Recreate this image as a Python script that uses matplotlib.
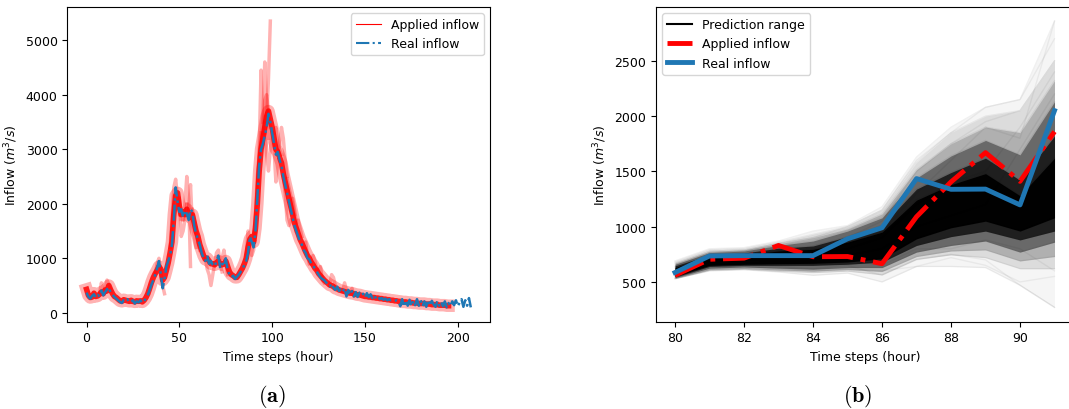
import numpy as np
import matplotlib.pyplot as plt
from matplotlib.lines import Line2D

plt.rcParams['mathtext.fontset'] = 'dejavusans'

# ---- panel (a): whole event, hourly ----
real_inflow = [
    370, 290, 260, 310, 340, 280, 330, 300, 410, 320,
    380, 430, 470, 360, 330, 290, 260, 230, 200, 180,
    230, 210, 250, 190, 200, 230, 170, 210, 190, 230,
    180, 220, 260, 330, 420, 520, 600, 700, 820, 950,
    700, 450, 620, 850, 950, 1050, 1250, 1700, 2300, 2050,
    1850, 1900, 1750, 1880, 1820, 1700, 1900, 1850, 1600, 1450,
    1350, 1250, 1100, 1000, 950, 1050, 900, 950, 880, 850,
    950, 1050, 820, 900, 850, 1000, 780, 700, 650, 680,
    620, 660, 700, 750, 800, 880, 950, 1100, 1400, 1300,
    1200, 1500, 2100, 2700, 3000, 3100, 3250, 3400, 3650, 3500,
    3300, 3100, 2900, 2950, 2800, 2700, 2500, 2350, 2200, 2050,
    1900, 1750, 1600, 1500, 1400, 1300, 1250, 1150, 1100, 1000,
    980, 900, 880, 800, 760, 700, 650, 620, 600, 560,
    520, 480, 540, 460, 420, 480, 400, 430, 380, 450,
    300, 420, 330, 400, 300, 380, 290, 370, 320, 350,
    280, 360, 290, 340, 270, 320, 260, 300, 250, 270,
    240, 260, 230, 250, 230, 240, 220, 230, 210, 120,
    250, 110, 230, 130, 240, 120, 220, 140, 250, 130,
    230, 120, 210, 110, 240, 130, 220, 150, 110, 220,
    130, 200, 120, 210, 100, 180, 120, 210, 140, 230,
    120, 190, 250, 110, 230, 130, 270, 100,
]

applied_inflow = [
    430, 320, 280, 290, 360, 300, 310, 340, 380, 350,
    420, 400, 500, 420, 350, 300, 280, 250, 220, 210,
    240, 230, 220, 210, 230, 210, 200, 220, 210, 220,
    200, 230, 280, 350, 450, 560, 650, 720, 780, 850,
    800, 600, 650, 780, 920, 1100, 1300, 1800, 2150, 2200,
    1950, 1800, 1850, 1800, 1900, 1800, 1750, 1800, 1650, 1500,
    1400, 1250, 1150, 1050, 980, 1000, 950, 900, 900, 880,
    920, 950, 900, 880, 900, 950, 850, 750, 700, 680,
    650, 650, 700, 760, 820, 900, 1000, 1200, 1350, 1400,
    1300, 1550, 2000, 2600, 3000, 3200, 3400, 3600, 3700, 3550,
    3400, 3200, 3000, 2950, 2850, 2750, 2550, 2400, 2250, 2100,
    1950, 1800, 1650, 1550, 1450, 1350, 1280, 1200, 1120, 1050,
    1000, 930, 880, 820, 780, 720, 680, 640, 600, 570,
    540, 510, 500, 480, 450, 440, 420, 410, 400, 390,
    380, 370, 360, 360, 350, 340, 330, 330, 320, 310,
    300, 300, 290, 290, 280, 280, 270, 270, 260, 260,
    250, 250, 240, 240, 230, 230, 220, 220, 210, 210,
    200, 200, 200, 190, 190, 190, 180, 180, 180, 170,
    170, 170, 170, 160, 160, 160, 150, 150, 150, 150,
    140, 140, 140, 140, 130, 130,
]

# forecast windows that stray from the band: (start hour, values)
forecast_windows = [
    (7, [350, 550, 420, 380]),
    (10, [450, 600, 520, 400]),
    (37, [700, 900, 1000, 750, 500, 350]),
    (45, [1200, 1700, 2300, 2450, 2100, 1800]),
    (50, [2100, 1400, 1500, 1700, 2000]),
    (52, [1700, 2000, 2500, 2100, 850]),
    (55, [1900, 2350, 1600, 1400, 1200]),
    (57, [1900, 1700, 1500, 1300, 1150]),
    (64, [1000, 800, 700, 500, 700, 900]),
    (69, [900, 1100, 1150, 900, 750]),
    (73, [1000, 1150, 900, 700]),
    (86, [1000, 1500, 1300, 1050, 1150, 1500]),
    (90, [1400, 1800, 2500, 2900, 3300]),
    (92, [2200, 3000, 4450, 3500]),
    (94, [3000, 3600, 4600, 3800, 3200]),
    (95, [3100, 3900, 4000, 3700, 3400]),
    (96, [3300, 3500, 4300, 5350]),
    (96, [3300, 2900, 2600, 3000, 3300]),
    (100, [3300, 3000, 2400, 2800]),
    (101, [3300, 3400, 3100, 3000, 2900]),
    (103, [2900, 3100, 3400, 3200, 2800, 2500]),
    (106, [2500, 2200, 1700, 1600, 1700]),
    (108, [2450, 2300, 2150, 2000, 1800]),
    (110, [1900, 2100, 1900, 1650]),
    (113, [1500, 1700, 1550, 1400]),
    (117, [1200, 1300, 1050, 900]),
    (121, [900, 1050, 950, 800]),
    (125, [750, 850, 600, 550]),
    (131, [500, 700, 650, 500]),
    (138, [400, 550, 420, 350]),
    (142, [380, 450, 300, 330]),
]

# ---- panel (b): one forecast horizon ----
hours_b = [80, 81, 82, 83, 84, 85, 86, 87, 88, 89, 90, 91]
real_b = [585, 735, 738, 738, 738, 890, 990, 1435, 1338, 1340, 1197, 2050]
applied_b = [560, 705, 715, 830, 728, 730, 665, 1090, 1405, 1670, 1410, 1860]

# ensemble spread (lo/hi per hour), outer to inner
outer_lo = [530, 600, 610, 590, 560, 580, 500, 640, 640, 630, 470, 270]
outer_hi = [690, 800, 810, 870, 960, 1010, 1180, 1630, 1900, 2080, 2150, 2860]
wide_lo = [528, 605, 615, 598, 585, 598, 565, 705, 745, 720, 620, 620]
wide_hi = [680, 790, 800, 860, 930, 1000, 1150, 1580, 1850, 2000, 2050, 2500]
light_lo = [532, 612, 622, 608, 598, 612, 595, 730, 780, 790, 690, 730]
light_hi = [670, 778, 790, 845, 900, 980, 1115, 1515, 1750, 1900, 1850, 2320]
mid_lo = [538, 625, 635, 625, 615, 630, 630, 770, 830, 870, 770, 860]
mid_hi = [660, 765, 780, 830, 870, 960, 1080, 1440, 1640, 1780, 1650, 2130]
core_lo = [545, 640, 650, 650, 650, 660, 680, 830, 910, 960, 880, 960]
core_hi = [645, 745, 762, 805, 825, 910, 1010, 1340, 1490, 1620, 1420, 1820]
dense_lo = [552, 650, 660, 665, 668, 680, 710, 890, 990, 1050, 960, 1080]
dense_hi = [630, 728, 745, 780, 795, 860, 950, 1240, 1380, 1480, 1280, 1620]

members = [
    [600, 700, 720, 760, 800, 850, 950, 1300, 1600, 1900, 1800, 2860],
    [560, 650, 660, 640, 620, 650, 560, 700, 750, 700, 470, 270],
    [640, 760, 780, 850, 900, 1000, 1150, 1600, 1850, 2080, 2150, 2700],
    [550, 620, 640, 620, 600, 620, 600, 640, 720, 650, 500, 550],
    [620, 720, 740, 780, 820, 900, 1050, 1500, 1750, 1950, 2050, 2500],
    [580, 680, 700, 700, 680, 700, 650, 800, 800, 880, 800, 600],
    [600, 700, 720, 730, 750, 800, 900, 1200, 1400, 1500, 1900, 2400],
    [570, 660, 670, 680, 700, 740, 800, 1000, 1100, 1200, 1700, 2200],
]


def plot_event(ax):
    t = np.arange(len(applied_inflow))
    ax.plot(t, applied_inflow, color='red', lw=9, alpha=0.3)
    ax.plot(t, applied_inflow, color='red', lw=4, alpha=0.85)
    for start, vals in forecast_windows:
        ax.plot(np.arange(start, start + len(vals)), vals, color='red', lw=2.5, alpha=0.3)
    ax.plot(np.arange(len(real_inflow)), real_inflow, color='tab:blue', ls='-.', lw=1.8)
    handles = [Line2D([], [], color='red', lw=0.8),
               Line2D([], [], color='tab:blue', ls='-.', lw=1.5)]
    ax.legend(handles, ['Applied inflow', 'Real inflow'], loc='upper right')
    ax.set_xlabel('Time steps (hour)')
    ax.set_ylabel('Inflow ($m^3/s$)')


def plot_horizon(ax):
    x = np.array(hours_b)
    bands = [(outer_lo, outer_hi, 0.04), (wide_lo, wide_hi, 0.1),
             (light_lo, light_hi, 0.2), (mid_lo, mid_hi, 0.4),
             (core_lo, core_hi, 0.7), (dense_lo, dense_hi, 0.95)]
    for lo, hi, a in bands:
        ax.fill_between(x, lo, hi, color='black', alpha=a, lw=0)
        ax.plot(x, lo, color='black', lw=1, alpha=0.06)
        ax.plot(x, hi, color='black', lw=1, alpha=0.06)
    for m in members:
        ax.plot(x, m, color='black', lw=1, alpha=0.05)
    ax.plot(x, applied_b, color='red', ls='-.', lw=3.5)
    ax.plot(x, real_b, color='tab:blue', lw=3.5)
    handles = [Line2D([], [], color='black', lw=1.5),
               Line2D([], [], color='red', ls='-.', lw=3.5),
               Line2D([], [], color='tab:blue', lw=3.5)]
    ax.legend(handles, ['Prediction range', 'Applied inflow', 'Real inflow'], loc='upper left')
    ax.set_xlabel('Time steps (hour)')
    ax.set_ylabel('Inflow ($m^3/s$)')


if __name__ == "__main__":
    plt.rcParams['font.size'] = 9
    fig = plt.figure(figsize=(10.69, 4.10), dpi=100)
    ax1 = fig.add_axes([0.063, 0.213, 0.3954, 0.768])
    ax2 = fig.add_axes([0.6137, 0.213, 0.3905, 0.768])
    plot_event(ax1)
    plot_horizon(ax2)
    fig.text(0.2545, 0.034, r'$\mathbf{(a)}$', ha='center', va='center',
             fontsize=16, math_fontfamily='cm')
    fig.text(0.8026, 0.034, r'$\mathbf{(b)}$', ha='center', va='center',
             fontsize=16, math_fontfamily='cm')
    fig.savefig('out.png', dpi=100)
